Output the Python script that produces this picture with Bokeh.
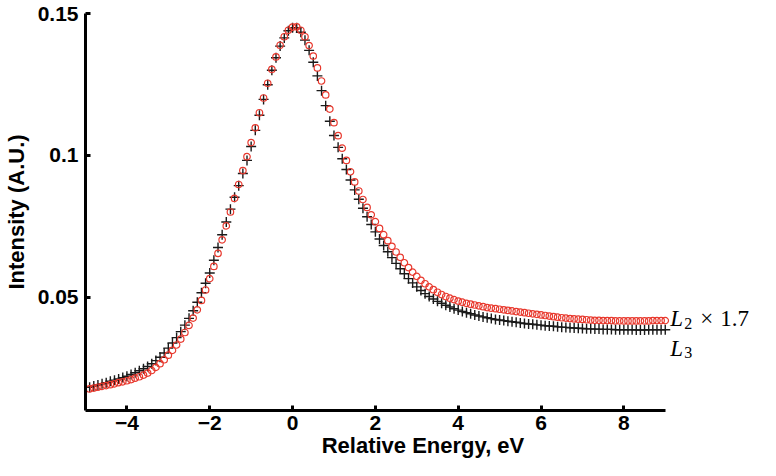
from bokeh.plotting import figure
from bokeh.models import Range1d, FixedTicker, Label, ColumnDataSource
from bokeh.embed import file_html
from bokeh.resources import INLINE

# Relative energy grid (eV)
energy = [
    -4.9, -4.8, -4.7, -4.6, -4.5, -4.4, -4.3, -4.2, -4.1, -4.0,
    -3.9, -3.8, -3.7, -3.6, -3.5, -3.4, -3.3, -3.2, -3.1, -3.0,
    -2.9, -2.8, -2.7, -2.6, -2.5, -2.4, -2.3, -2.2, -2.1, -2.0,
    -1.9, -1.8, -1.7, -1.6, -1.5, -1.4, -1.3, -1.2, -1.1, -1.0,
    -0.9, -0.8, -0.7, -0.6, -0.5, -0.4, -0.3, -0.2, -0.1, 0.0,
    0.1, 0.2, 0.3, 0.4, 0.5, 0.6, 0.7, 0.8, 0.9, 1.0,
    1.1, 1.2, 1.3, 1.4, 1.5, 1.6, 1.7, 1.8, 1.9, 2.0,
    2.1, 2.2, 2.3, 2.4, 2.5, 2.6, 2.7, 2.8, 2.9, 3.0,
    3.1, 3.2, 3.3, 3.4, 3.5, 3.6, 3.7, 3.8, 3.9, 4.0,
    4.1, 4.2, 4.3, 4.4, 4.5, 4.6, 4.7, 4.8, 4.9, 5.0,
    5.1, 5.2, 5.3, 5.4, 5.5, 5.6, 5.7, 5.8, 5.9, 6.0,
    6.1, 6.2, 6.3, 6.4, 6.5, 6.6, 6.7, 6.8, 6.9, 7.0,
    7.1, 7.2, 7.3, 7.4, 7.5, 7.6, 7.7, 7.8, 7.9, 8.0,
    8.1, 8.2, 8.3, 8.4, 8.5, 8.6, 8.7, 8.8, 8.9, 9.0,
]

# L3 edge intensity (black crosses)
l3 = [
    0.0182, 0.0186, 0.0190, 0.0194, 0.0198, 0.0203, 0.0207, 0.0211, 0.0216, 0.0221,
    0.0227, 0.0233, 0.0240, 0.0247, 0.0255, 0.0265, 0.0276, 0.0288, 0.0303, 0.0320,
    0.0338, 0.0357, 0.0378, 0.0401, 0.0425, 0.0452, 0.0482, 0.0515, 0.0549, 0.0585,
    0.0630, 0.0675, 0.0720, 0.0765, 0.0810, 0.0852, 0.0893, 0.0936, 0.0982, 0.1031,
    0.1088, 0.1141, 0.1197, 0.1249, 0.1300, 0.1344, 0.1385, 0.1414, 0.1439, 0.1450,
    0.1450, 0.1434, 0.1406, 0.1370, 0.1328, 0.1280, 0.1228, 0.1175, 0.1120, 0.1070,
    0.1028, 0.0988, 0.0950, 0.0913, 0.0878, 0.0845, 0.0813, 0.0783, 0.0756, 0.0730,
    0.0705, 0.0682, 0.0660, 0.0639, 0.0619, 0.0600, 0.0582, 0.0565, 0.0550, 0.0536,
    0.0523, 0.0512, 0.0502, 0.0493, 0.0485, 0.0478, 0.0471, 0.0465, 0.0459, 0.0454,
    0.0449, 0.0445, 0.0441, 0.0437, 0.0433, 0.0430, 0.0427, 0.0424, 0.0421, 0.0419,
    0.0417, 0.0415, 0.0413, 0.0411, 0.0409, 0.0407, 0.0405, 0.0404, 0.0402, 0.0401,
    0.0399, 0.0398, 0.0397, 0.0395, 0.0394, 0.0393, 0.0392, 0.0391, 0.0390, 0.0389,
    0.0388, 0.0388, 0.0387, 0.0387, 0.0386, 0.0386, 0.0386, 0.0385, 0.0385, 0.0385,
    0.0385, 0.0385, 0.0384, 0.0384, 0.0384, 0.0385, 0.0385, 0.0385, 0.0385, 0.0385,
]

# L2 edge intensity x 1.7 (red circles)
l2_scaled = [
    0.0176, 0.0179, 0.0182, 0.0185, 0.0188, 0.0191, 0.0194, 0.0198, 0.0201, 0.0205,
    0.0209, 0.0214, 0.0219, 0.0225, 0.0232, 0.0241, 0.0252, 0.0265, 0.0279, 0.0295,
    0.0312, 0.0331, 0.0352, 0.0375, 0.0400, 0.0426, 0.0455, 0.0488, 0.0525, 0.0565,
    0.0608, 0.0654, 0.0702, 0.0751, 0.0800, 0.0848, 0.0897, 0.0946, 0.0995, 0.1045,
    0.1097, 0.1150, 0.1202, 0.1254, 0.1303, 0.1347, 0.1388, 0.1418, 0.1441, 0.1452,
    0.1453, 0.1441, 0.1418, 0.1387, 0.1350, 0.1308, 0.1262, 0.1213, 0.1163, 0.1115,
    0.1069, 0.1025, 0.0982, 0.0942, 0.0906, 0.0874, 0.0844, 0.0816, 0.0790, 0.0766,
    0.0742, 0.0720, 0.0699, 0.0679, 0.0659, 0.0640, 0.0621, 0.0604, 0.0588, 0.0573,
    0.0559, 0.0547, 0.0536, 0.0526, 0.0517, 0.0509, 0.0502, 0.0496, 0.0491, 0.0486,
    0.0482, 0.0478, 0.0475, 0.0472, 0.0469, 0.0466, 0.0463, 0.0461, 0.0459, 0.0457,
    0.0455, 0.0453, 0.0451, 0.0449, 0.0447, 0.0445, 0.0443, 0.0441, 0.0439, 0.0437,
    0.0435, 0.0433, 0.0431, 0.0429, 0.0427, 0.0426, 0.0424, 0.0423, 0.0422, 0.0421,
    0.0420, 0.0419, 0.0418, 0.0418, 0.0417, 0.0417, 0.0417, 0.0416, 0.0416, 0.0416,
    0.0416, 0.0416, 0.0416, 0.0416, 0.0416, 0.0416, 0.0417, 0.0417, 0.0417, 0.0417,
]

x_ticks = [-4, -2, 0, 2, 4, 6, 8]
x_tick_labels = ["\u22124", "\u22122", "0", "2", "4", "6", "8"]
y_ticks = [0.05, 0.1, 0.15]
y_tick_labels = ["0.05", "0.1", "0.15"]

x_axis_lo, x_axis_hi = -5, 9          # extent of the drawn x axis
x_view_hi = 11.3                      # extra room on the right for the curve labels
y_min, y_max = 0.01, 0.15

p = figure(width=760, height=460, output_backend="svg", toolbar_location=None,
           x_range=Range1d(x_axis_lo, x_view_hi), y_range=Range1d(y_min, y_max),
           min_border_left=72, min_border_right=0, min_border_top=13, min_border_bottom=40)

p.outline_line_color = None
p.xgrid.visible = False
p.ygrid.visible = False
p.background_fill_color = "white"
p.border_fill_color = "white"

for ax in (p.xaxis[0], p.yaxis[0]):
    ax.axis_line_width = 3
    ax.axis_line_color = "black"
    ax.major_tick_line_width = 3
    ax.major_tick_line_color = "black"
    ax.major_tick_in = 5
    ax.major_tick_out = 0
    ax.minor_tick_line_color = None
    ax.major_label_text_font = "Liberation Sans"
    ax.major_label_text_font_style = "bold"
    ax.major_label_text_font_size = "21px"
    ax.major_label_text_color = "black"
    ax.axis_label_text_font = "Liberation Sans"
    ax.axis_label_text_font_style = "bold"
    ax.axis_label_text_font_size = "22px"
    ax.axis_label_text_color = "black"

p.xaxis[0].bounds = (x_axis_lo, x_axis_hi)
p.xaxis[0].ticker = FixedTicker(ticks=x_ticks)
p.xaxis[0].major_label_overrides = dict(zip(x_ticks, x_tick_labels))
p.yaxis[0].ticker = FixedTicker(ticks=y_ticks)
p.yaxis[0].major_label_overrides = dict(zip(y_ticks, y_tick_labels))
p.xaxis[0].axis_label = "Relative Energy, eV"
p.yaxis[0].axis_label = "Intensity (A.U.)"
p.xaxis[0].major_label_standoff = 5
p.xaxis[0].axis_label_standoff = 0
p.yaxis[0].major_label_standoff = 7
p.yaxis[0].axis_label_standoff = 6

src = ColumnDataSource(dict(x=energy, l3=l3, l2=l2_scaled))
p.scatter("x", "l3", source=src, marker="cross", size=10, line_color="#1a1a1a", line_width=1.4)
p.scatter("x", "l2", source=src, marker="circle", size=6.5, fill_color=None,
          line_color="#e8392e", line_width=1.2)

serif = "Liberation Serif"
lx = energy[-1]
big = "23px"
small = "16px"
p.add_layout(Label(x=lx, y=l2_scaled[-1], x_offset=5, y_offset=2, text="L",
                   text_font=serif, text_font_style="italic", text_font_size=big,
                   text_baseline="alphabetic", text_color="black"))
p.add_layout(Label(x=lx, y=l2_scaled[-1], x_offset=19, y_offset=-3, text="2",
                   text_font=serif, text_font_size=small,
                   text_baseline="alphabetic", text_color="black"))
p.add_layout(Label(x=lx, y=l2_scaled[-1], x_offset=35, y_offset=2, text="\u00d7",
                   text_font=serif, text_font_size=big,
                   text_baseline="alphabetic", text_color="black"))
p.add_layout(Label(x=lx, y=l2_scaled[-1], x_offset=55, y_offset=2, text="1.7",
                   text_font=serif, text_font_size=big,
                   text_baseline="alphabetic", text_color="black"))
p.add_layout(Label(x=lx, y=l3[-1], x_offset=5, y_offset=-19, text="L",
                   text_font=serif, text_font_style="italic", text_font_size=big,
                   text_baseline="alphabetic", text_color="black"))
p.add_layout(Label(x=lx, y=l3[-1], x_offset=19, y_offset=-23, text="3",
                   text_font=serif, text_font_size=small,
                   text_baseline="alphabetic", text_color="black"))

open("out.html", "w").write(file_html(p, INLINE))
